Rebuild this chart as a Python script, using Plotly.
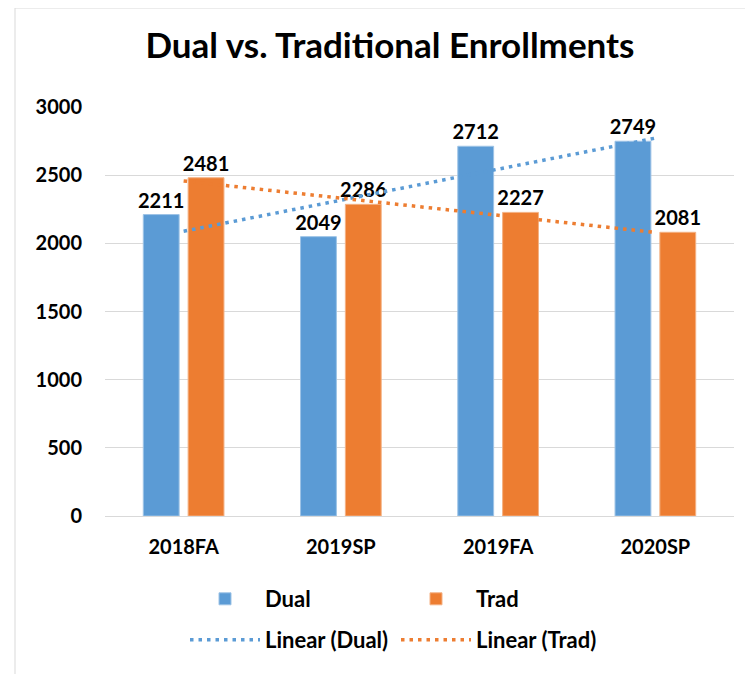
import numpy as np
import plotly.graph_objects as go

categories = ["2018FA", "2019SP", "2019FA", "2020SP"]
dual = [2211, 2049, 2712, 2749]
trad = [2481, 2286, 2227, 2081]
y_ticks = [0, 500, 1000, 1500, 2000, 2500, 3000]

BLUE = "#5B9BD5"
ORANGE = "#ED7D31"
FONT = "Lato"


def linear_trend(values):
    x = np.arange(1, len(values) + 1)
    slope, intercept = np.polyfit(x, values, 1)
    return list(slope * x + intercept)


label_font = dict(family=FONT, size=20, color="black", weight="bold")

fig = go.Figure()
fig.add_trace(go.Bar(
    x=categories, y=dual, name="Dual",
    marker=dict(color=BLUE, line=dict(color="#9dc3e6", width=1)),
    text=dual, textposition="outside", cliponaxis=False, constraintext="none",
    textfont=label_font, legend="legend",
))
fig.add_trace(go.Bar(
    x=categories, y=trad, name="Trad",
    marker=dict(color=ORANGE, line=dict(color="#f4b183", width=1)),
    text=trad, textposition="outside", cliponaxis=False, constraintext="none",
    textfont=label_font, legend="legend",
))
fig.add_trace(go.Scatter(
    x=categories, y=linear_trend(dual), name="Linear (Dual)", mode="lines",
    line=dict(color=BLUE, width=3.5, dash="3.5px,5px"), legend="legend2",
))
fig.add_trace(go.Scatter(
    x=categories, y=linear_trend(trad), name="Linear (Trad)", mode="lines",
    line=dict(color=ORANGE, width=3.5, dash="3.5px,5px"), legend="legend2",
))

legend_common = dict(
    orientation="h", xanchor="left", yanchor="middle",
    entrywidth=126, entrywidthmode="pixels",
    font=dict(family=FONT, size=22, color="black", weight="bold"),
    bgcolor="rgba(0,0,0,0)", itemwidth=70,
)

# page body adds 8px offset; margins compensate so plot area sits at x 105-734, y 107-516
fig.update_layout(
    width=753, height=674,
    paper_bgcolor="white", plot_bgcolor="white",
    margin=dict(l=97, r=27, t=99, b=166, autoexpand=False),
    title=dict(text="<b>Dual vs. Traditional Enrollments</b>", x=0.5073, xanchor="center",
               y=0.9436, yanchor="middle", yref="container",
               font=dict(family=FONT, size=35, color="black")),
    barmode="group", bargap=0.43, bargroupgap=0.2,
    showlegend=True,
    legend=dict(x=80 / 629, y=(516 - 599) / 409, **legend_common),
    legend2=dict(x=80 / 629, y=(516 - 640) / 409, **legend_common),
    xaxis=dict(showgrid=False, showline=True, linecolor="#d9d9d9", linewidth=1,
               ticks="", ticklabelstandoff=13,
               tickfont=dict(family=FONT, size=20, color="black", weight="bold")),
    yaxis=dict(range=[0, 3000], tickvals=y_ticks, showgrid=True, gridcolor="#d9d9d9",
               gridwidth=1, zeroline=False, showline=False, ticks="", ticklabelstandoff=22,
               tickfont=dict(family=FONT, size=20, color="black", weight="bold")),
    shapes=[
        dict(type="line", xref="paper", yref="paper", x0=(15 - 105) / 629, x1=(15 - 105) / 629,
             y0=(516 - 700) / 409, y1=(516 - 8) / 409, line=dict(color="#d9d9d9", width=1)),
        dict(type="line", xref="paper", yref="paper", x0=(15 - 105) / 629, x1=(770 - 105) / 629,
             y0=(516 - 8) / 409, y1=(516 - 8) / 409, line=dict(color="#d9d9d9", width=1)),
    ],
)

fig.write_html("out.html")
